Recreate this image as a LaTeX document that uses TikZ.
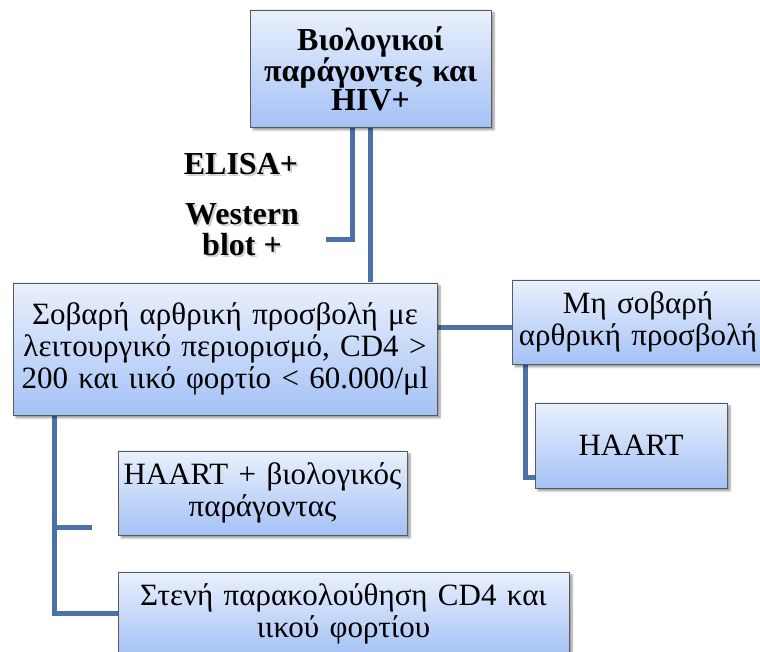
\documentclass[tikz,border=0pt]{standalone}
\usepackage{fontspec}
\setmainfont{Liberation Serif}
\usetikzlibrary{shadows.blur,backgrounds}

\definecolor{linkblue}{HTML}{4A72A8}
\definecolor{boxtop}{HTML}{EAF0FC}
\definecolor{boxbot}{HTML}{A4C2F6}
\definecolor{boxedge}{HTML}{5A5A5A}

\tikzset{
  card/.style={draw=boxedge, line width=0.8pt, top color=boxtop, bottom color=boxbot,
    align=center, inner sep=1pt,
    blur shadow={shadow xshift=3pt, shadow yshift=-3pt, shadow blur steps=6, shadow opacity=40},
    font=\fontsize{31}{32}\selectfont},
  link/.style={draw=linkblue, line width=5pt},
  tag/.style={font=\bfseries\fontsize{32}{31}\selectfont, align=center},
  tagshade/.style={tag, text=black, opacity=0.18}
}

\begin{document}
\begin{tikzpicture}[x=1pt,y=1pt]
\useasboundingbox (0,0) rectangle (760,652);
\clip (0,0) rectangle (760,652);

% boxes
\node[card, minimum width=241pt, minimum height=117pt, text width=239pt,
      font=\bfseries\fontsize{32}{28.5}\selectfont] (top) at (370.5,583.5)
  {Βιολογικοί\\παράγοντες και\\HIV+};
\node[card, minimum width=424pt, minimum height=132pt, text width=422pt] (big) at (225,303)
  {Σοβαρή αρθρική προσβολή με\\λειτουργικό περιορισμό, CD4 >\\200 και ιικό φορτίο < 60.000/μl};
\node[card, minimum width=252pt, minimum height=84pt, text width=250pt] (right) at (638,330)
  {Μη σοβαρή\\αρθρική προσβολή};
\node[card, minimum width=192pt, minimum height=85pt, text width=190pt] (haart) at (631,206.5)
  {HAART};
\node[card, minimum width=289pt, minimum height=84pt, text width=287pt] (combo) at (262.5,159)
  {HAART + βιολογικός\\παράγοντας};
\node[card, minimum width=451pt, minimum height=84pt, text width=449pt] (watch) at (343.5,38)
  {Στενή παρακολούθηση CD4 και\\ιικού φορτίου};

% side labels, each over a faint offset copy acting as its shadow
\node[tagshade, anchor=base] at (243,475) {ELISA+};
\node[tag, anchor=base] (elisa) at (241,477) {ELISA+};
\node[tagshade] at (244,420) {Western\\blot +};
\node[tag] (wb) at (242,422) {Western\\blot +};

% connectors
\coordinate (tagend) at (326,412);
\coordinate (spine) at ([xshift=42pt]big.south west);
\coordinate (branch) at (92,124);
\begin{scope}[on background layer]
\draw[link] ([xshift=-18.5pt]top.south) |- (tagend);
\draw[link] (top.south) -- (top.south |- big.north);
\draw[link] ([yshift=-6pt]right.west) -- ([yshift=-6pt]right.west -| big.east);
\draw[link] ([xshift=14pt]right.south west) |- ([yshift=-32.5pt]haart.west);
\draw[link] (spine) |- (watch.west);
\draw[link] (spine |- branch) -- (branch);
\end{scope}
\end{tikzpicture}
\end{document}
